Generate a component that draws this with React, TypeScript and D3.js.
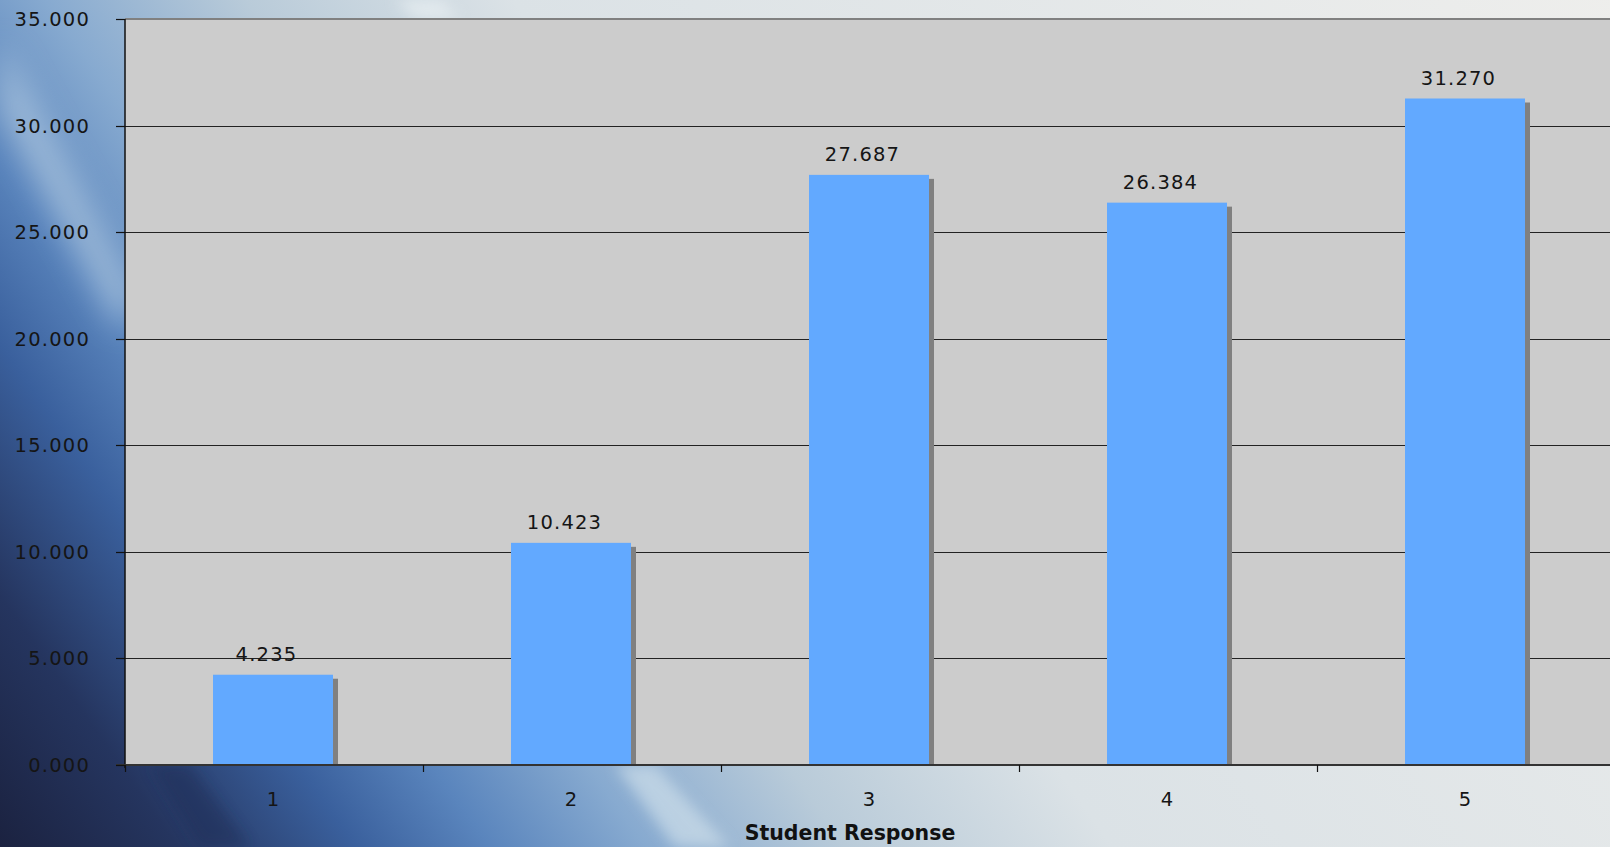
import React from "react";
import * as d3 from "d3";

const categories = ["1", "2", "3", "4", "5"];
const values = [4.235, 10.423, 27.687, 26.384, 31.27];
const yTicks = [0, 5, 10, 15, 20, 25, 30, 35];
const xTitle = "Student Response";

const W = 1610;
const H = 847;
const LEFT = 125;
const TOP = 19;
const BOTTOM = 765;
const BAND = 298;
const BAR_W = 120;

export default function App() {
  const x = d3
    .scaleBand<string>()
    .domain(categories)
    .range([LEFT, LEFT + BAND * categories.length])
    .paddingInner(0)
    .paddingOuter(0);
  const y = d3.scaleLinear().domain([0, 35]).range([BOTTOM, TOP]);
  const fmt = d3.format(".3f");
  const bw = x.bandwidth();
  const font = "'DejaVu Sans', Verdana, sans-serif";

  return (
    <svg
      width={W}
      height={H}
      style={{ position: "fixed", left: 0, top: 0, display: "block" }}
    >
      <defs>
        <linearGradient
          id="bg"
          gradientUnits="userSpaceOnUse"
          x1={0}
          y1={847}
          x2={1482}
          y2={-203}
        >
          <stop offset="0" stopColor="#1b2240" />
          <stop offset="0.08" stopColor="#25355f" />
          <stop offset="0.16" stopColor="#3a609d" />
          <stop offset="0.22" stopColor="#5a85bd" />
          <stop offset="0.29" stopColor="#87aad0" />
          <stop offset="0.38" stopColor="#b9cbd9" />
          <stop offset="0.5" stopColor="#dbe2e6" />
          <stop offset="1" stopColor="#eeeeec" />
        </linearGradient>
        <filter id="blur" x="-50%" y="-50%" width="200%" height="200%">
          <feGaussianBlur stdDeviation="16" />
        </filter>
        <filter id="blur2" x="-50%" y="-50%" width="200%" height="200%">
          <feGaussianBlur stdDeviation="7" />
        </filter>
      </defs>

      <rect x={0} y={0} width={W} height={H} fill="url(#bg)" />
      {/* light streaks */}
      <polygon
        points="0,40 0,110 120,330 140,300"
        fill="#d6e6f0"
        opacity={0.5}
        filter="url(#blur)"
      />
      <polygon
        points="615,765 655,765 730,847 675,847"
        fill="#dbe9f0"
        opacity={0.55}
        filter="url(#blur2)"
      />
      <polygon
        points="395,0 440,0 460,19 415,19"
        fill="#eef4f6"
        opacity={0.6}
        filter="url(#blur2)"
      />
      <polygon
        points="150,765 190,765 250,847 200,847"
        fill="#1e2a52"
        opacity={0.45}
        filter="url(#blur2)"
      />

      {/* plot area */}
      <rect x={LEFT} y={TOP} width={W - LEFT} height={BOTTOM - TOP} fill="#cccccc" />

      {/* gridlines */}
      {yTicks
        .filter((t) => t > 0 && t < 35)
        .map((t) => (
          <line
            key={"g" + t}
            x1={LEFT}
            x2={W}
            y1={Math.round(y(t)) + 0.5}
            y2={Math.round(y(t)) + 0.5}
            stroke="#222"
            strokeWidth={1.2}
          />
        ))}
      <line x1={LEFT} x2={W} y1={TOP} y2={TOP} stroke="#808080" strokeWidth={2} />

      {/* bars with shadow */}
      {categories.map((c, i) => {
        const bx = (x(c) as number) + (bw - BAR_W) / 2 - 1;
        const top = y(values[i]);
        return (
          <g key={"b" + c}>
            <rect
              x={bx + BAR_W}
              y={top + 4}
              width={5}
              height={BOTTOM - top - 4}
              fill="#808080"
            />
            <rect x={bx} y={top} width={BAR_W} height={BOTTOM - top} fill="#62a9ff" />
            <text
              x={bx + BAR_W / 2 - 6.5}
              y={top - 14}
              textAnchor="middle"
              fontFamily={font}
              fontSize={19.5}
              letterSpacing={1.2}
              fill="#151515"
            >
              {fmt(values[i])}
            </text>
          </g>
        );
      })}

      {/* axes */}
      <line x1={LEFT} x2={LEFT} y1={TOP} y2={BOTTOM + 3} stroke="#111" strokeWidth={1.5} />
      <line x1={LEFT - 9} x2={W} y1={BOTTOM} y2={BOTTOM} stroke="#333" strokeWidth={2} />
      {yTicks.map((t) => (
        <g key={"yt" + t}>
          <line
            x1={LEFT - 9}
            x2={LEFT}
            y1={Math.round(y(t)) + 0.5}
            y2={Math.round(y(t)) + 0.5}
            stroke="#111"
            strokeWidth={1.2}
          />
          <text
            x={90}
            y={y(t) + 7}
            textAnchor="end"
            fontFamily={font}
            fontSize={19.5}
            letterSpacing={1.2}
            fill="#151515"
          >
            {fmt(t)}
          </text>
        </g>
      ))}
      {categories.map((c) => (
        <line
          key={"xt" + c}
          x1={(x(c) as number) + 0.5}
          x2={(x(c) as number) + 0.5}
          y1={BOTTOM}
          y2={BOTTOM + 7}
          stroke="#111"
          strokeWidth={1.2}
        />
      ))}
      {categories.map((c) => (
        <text
          key={"xl" + c}
          x={(x(c) as number) + bw / 2 - 1}
          y={806}
          textAnchor="middle"
          fontFamily={font}
          fontSize={19.5}
          fill="#151515"
        >
          {c}
        </text>
      ))}
      <text
        x={850}
        y={840}
        textAnchor="middle"
        fontFamily={font}
        fontSize={20.5}
        fontWeight="bold"
        fill="#111"
      >
        {xTitle}
      </text>
    </svg>
  );
}
